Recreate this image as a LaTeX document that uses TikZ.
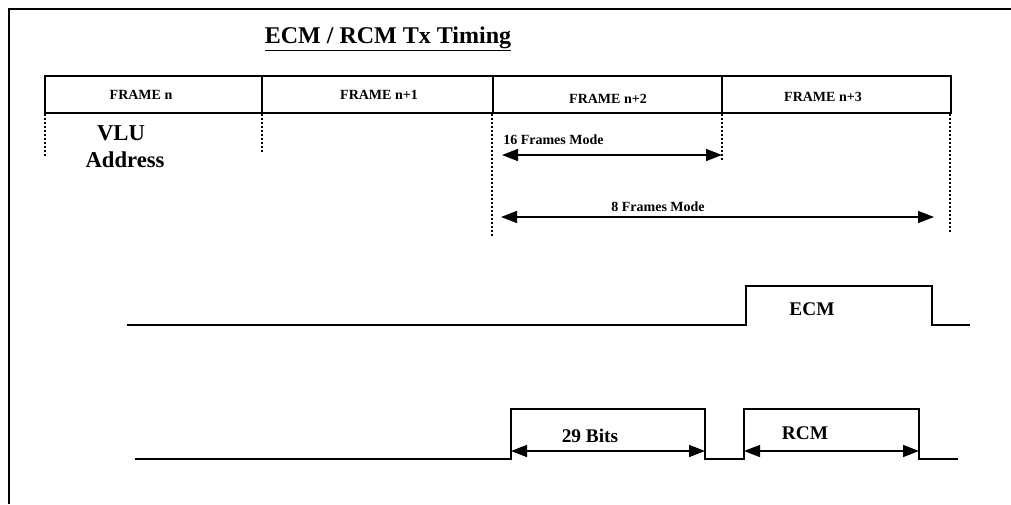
\documentclass[tikz,border=0pt]{standalone}
\usepackage{fontspec}
\setmainfont{Liberation Serif}
\usetikzlibrary{arrows.meta}
\begin{document}
\begin{tikzpicture}[x=0.75pt, y=-0.75pt,
    wave/.style={line width=1.5pt, line join=miter},
    guide/.style={line width=0.8pt, dash pattern=on 1.5pt off 1.5pt},
    span/.style={line width=1.1pt,
        {Triangle[length=12pt,width=9pt]}-{Triangle[length=12pt,width=9pt]}},
    small/.style={inner sep=0pt, font=\bfseries\fontsize{10.5}{12}\selectfont},
    big/.style={inner sep=0pt, font=\bfseries\fontsize{14.5}{17}\selectfont}]
    \useasboundingbox (0,0) rectangle (1011,504);

    % Page frame (only the top and left edges show)
    \draw[line width=1.5pt] (1011,9) -- (9,9) -- (9,504);

    % Title
    \node[inner sep=0pt, anchor=base, font=\bfseries\fontsize{18}{21}\selectfont]
        (title) at (388,43) {\underline{ECM / RCM Tx Timing}};

    % Frame row and its dividers
    \draw[line width=1.4pt] (45,76) rectangle (951,113);
    \foreach \x in {262,493,722} \draw[line width=1.4pt] (\x,76) -- (\x,113);
    \node[small] (fr0) at (141,95) {FRAME n};
    \node[small] (fr1) at (379,95) {FRAME n+1};
    \node[small] (fr2) at (608,99) {FRAME n+2};
    \node[small] (fr3) at (823,97) {FRAME n+3};

    % Dotted guides below the frame boundaries
    \draw[guide] (45,114)  -- (45,158);
    \draw[guide] (262,114) -- (262,153);
    \draw[guide] (492,114) -- (492,238);
    \draw[guide] (722,114) -- (722,160);
    \draw[guide] (950,114) -- (950,233);

    \node[inner sep=0pt, anchor=base, font=\bfseries\fontsize{17}{20}\selectfont]
        (vlu) at (121,140) {VLU};
    \node[inner sep=0pt, anchor=base, font=\bfseries\fontsize{17}{20}\selectfont]
        (addr) at (125,167) {Address};

    % Repetition spans
    \coordinate (m16a) at (502,155);
    \coordinate (m16b) at (722,155);
    \coordinate (m8a)  at (501,217);
    \coordinate (m8b)  at (934,217);
    \draw[span] (m16a) -- (m16b);
    \draw[span] (m8a) -- (m8b);
    \node[small, anchor=west] (mode16) at (503,140) {16 Frames Mode};
    \node[small] (mode8) at (658,207) {8 Frames Mode};

    % ECM line
    \draw[wave] (127,325) -- (746,325) -- (746,286) -- (932,286)
        -- (932,325) -- (970,325);
    \node[big] (ecm) at (812,309) {ECM};

    % RCM line
    \draw[wave] (135,459) -- (511,459) -- (511,409) -- (705,409) -- (705,459)
        -- (744,459) -- (744,409) -- (919,409) -- (919,459) -- (958,459);
    \coordinate (b29a) at (511,451);
    \coordinate (b29b) at (705,451);
    \coordinate (rcma) at (744,451);
    \coordinate (rcmb) at (919,451);
    \draw[span] (b29a) -- (b29b);
    \draw[span] (rcma) -- (rcmb);
    \node[big] (bits) at (590,436) {29 Bits};
    \node[big] (rcm) at (805,433) {RCM};
\end{tikzpicture}
\end{document}
